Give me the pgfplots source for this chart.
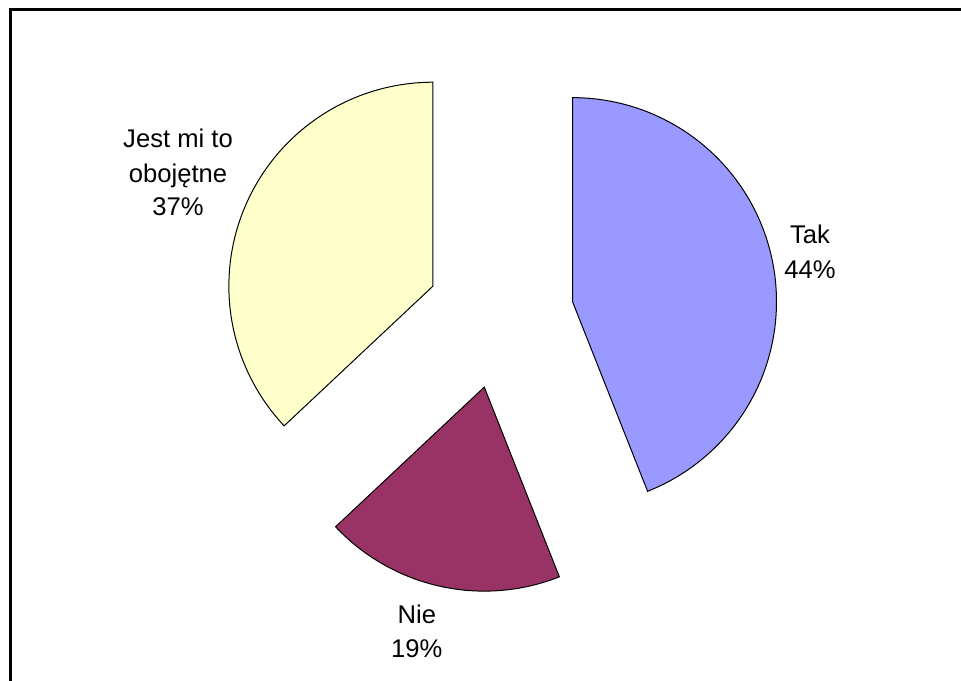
\documentclass[border=0pt]{standalone}
\usepackage{pgfplots}
\pgfplotsset{compat=1.18}
\usepackage{pgfplotstable}
\usepackage{fontspec}
\setmainfont{Liberation Sans}
\definecolor{takc}{HTML}{9999FF}
\definecolor{niec}{HTML}{993366}
\definecolor{jestc}{HTML}{FFFFCC}
\pgfplotstableread{
label value
Tak 44
Nie 19
Jest 37
}\piedata
\begin{document}
\begin{tikzpicture}
\pgfplotstablegetelem{0}{value}\of\piedata \let\vA\pgfplotsretval
\pgfplotstablegetelem{1}{value}\of\piedata \let\vB\pgfplotsretval
\pgfplotstablegetelem{2}{value}\of\piedata \let\vC\pgfplotsretval
% pie centre, radius, explosion distance (axis units = pixels)
\pgfmathsetmacro{\cx}{500.3}
\pgfmathsetmacro{\cy}{364.6}
\pgfmathsetmacro{\R}{204}
\pgfmathsetmacro{\D}{73.5}
% angles, clockwise from 12 o'clock
\pgfmathsetmacro{\aS}{90}
\pgfmathsetmacro{\aA}{90-3.6*\vA}
\pgfmathsetmacro{\aB}{\aA-3.6*\vB}
\pgfmathsetmacro{\aC}{\aB-3.6*\vC}
\pgfmathsetmacro{\mA}{(\aS+\aA)/2}
\pgfmathsetmacro{\mB}{(\aA+\aB)/2}
\pgfmathsetmacro{\mC}{(\aB+\aC)/2}
\pgfmathsetmacro{\xA}{\cx+\D*cos(\mA)}
\pgfmathsetmacro{\yA}{\cy+\D*sin(\mA)}
\pgfmathsetmacro{\xB}{\cx+\D*cos(\mB)}
\pgfmathsetmacro{\yB}{\cy+\D*sin(\mB)}
\pgfmathsetmacro{\xC}{\cx+\D*cos(\mC)}
\pgfmathsetmacro{\yC}{\cy+\D*sin(\mC)}
\begin{axis}[name=ax, x=0.5pt, y=0.5pt, xmin=0, xmax=961, ymin=0, ymax=680,
  hide axis, clip=false, scale only axis]
\addplot[black, line width=1.5pt] coordinates {(10.5,-5) (10.5,670.5) (970,670.5)};
\addplot[draw=black, line width=0.5pt, fill=takc, domain=\aA:\aS, samples=120, variable=\t]
  ({\xA+\R*cos(\t)}, {\yA+\R*sin(\t)}) -- (axis cs:\xA,\yA) -- cycle;
\addplot[draw=black, line width=0.5pt, fill=niec, domain=\aB:\aA, samples=80, variable=\t]
  ({\xB+\R*cos(\t)}, {\yB+\R*sin(\t)}) -- (axis cs:\xB,\yB) -- cycle;
\addplot[draw=black, line width=0.5pt, fill=jestc, domain=\aC:\aB, samples=120, variable=\t]
  ({\xC+\R*cos(\t)}, {\yC+\R*sin(\t)}) -- (axis cs:\xC,\yC) -- cycle;
\begin{scope}[every node/.style={anchor=base, inner sep=0pt, font=\fontsize{12.8}{15}\selectfont}]
\node at (axis cs:178,532) {Jest mi to};
\node at (axis cs:178,497.5) {obojętne};
\node at (axis cs:178,464.5) {37\%};
\node at (axis cs:810,436.7) {Tak};
\node at (axis cs:810,401.7) {44\%};
\node at (axis cs:416.8,56.7) {Nie};
\node at (axis cs:416.8,22.3) {19\%};
\end{scope}
\end{axis}
\pgfresetboundingbox
\path[use as bounding box] (0,0) rectangle (480.5pt,340pt);
\end{tikzpicture}
\end{document}
